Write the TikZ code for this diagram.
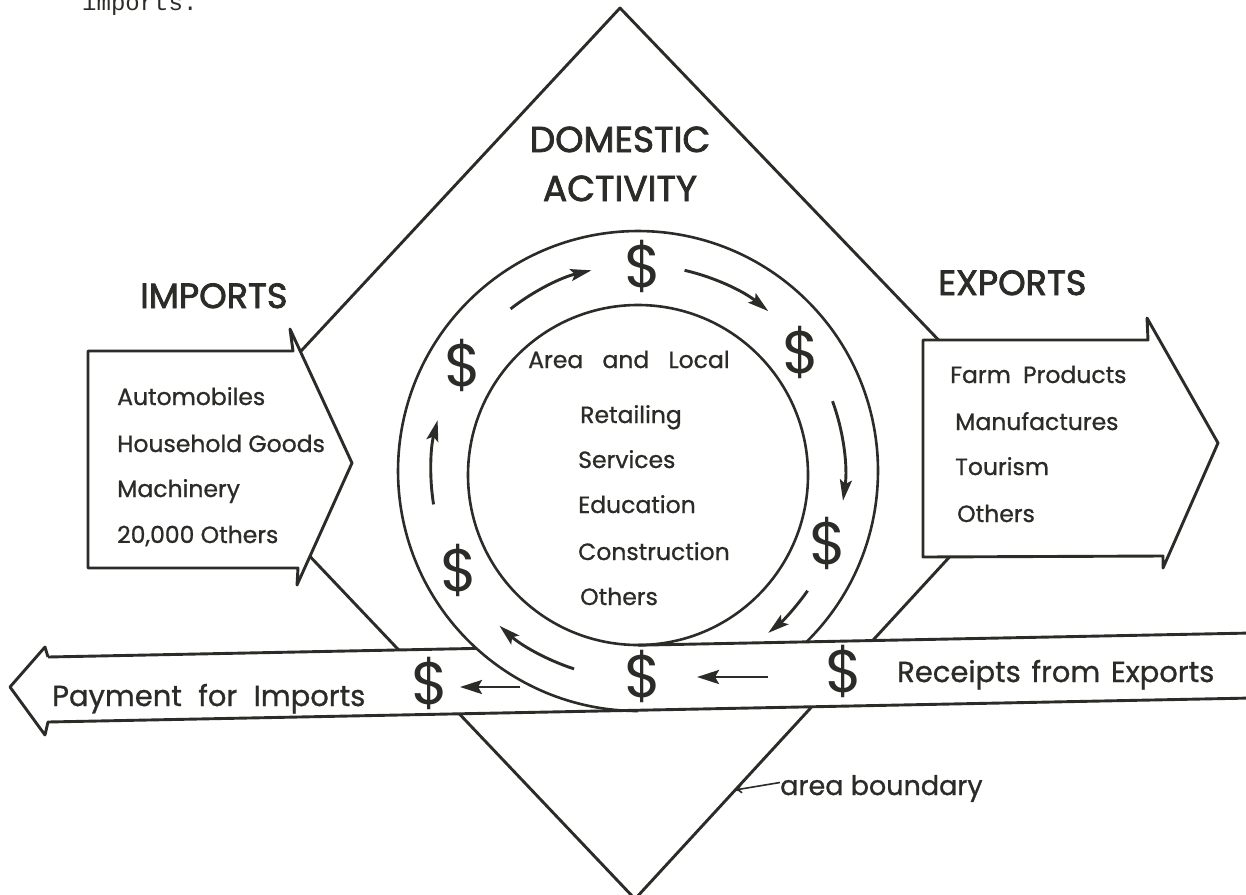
\documentclass[tikz,border=0pt]{standalone}
\usepackage{fontspec}
\setmainfont{Poppins}
\newfontfamily\lettering{Poppins}[FakeBold=0.9]
\newfontfamily\heading{Poppins}[FakeBold=2.2]
\newfontfamily\typewriter{Liberation Mono}
\usetikzlibrary{arrows.meta}
\definecolor{ink}{HTML}{2B2B27}

\newcommand{\fsz}[1]{\fontsize{#1}{#1}\selectfont}

\tikzset{
  edge/.style={draw=ink, line width=2.9pt, line join=round},
  ring/.style={draw=ink, line width=2.6pt},
  flow/.style={draw=ink, line width=2.9pt,
    -{Stealth[length=21pt, width=12pt, inset=4pt]}},
  bandflow/.style={draw=ink, line width=2.9pt,
    -{Stealth[length=22pt, width=14pt, inset=4pt]}},
  pointer/.style={draw=ink, line width=1.6pt, -{To[length=7pt, width=9pt]}},
  txt/.style={text=ink, inner sep=0pt, anchor=base west},
  title/.style={txt, font=\heading\fsz{35}},
  item/.style={txt, font=\lettering\fsz{23.5}},
  money/.style={text=ink, inner sep=0pt, font=\fsz{60}},
}

\begin{document}
\begin{tikzpicture}[x=1pt, y=-1pt]
  \useasboundingbox (0,0) rectangle (1246,894);
  \clip (0,0) rectangle (1246,894);

  % ---- area boundary (diamond) ----
  \coordinate (dT) at (620,8);
  \coordinate (dR) at (1046,452);
  \coordinate (dB) at (635,899);
  \coordinate (dL) at (209,450);
  \draw[edge] (dT) -- (dR) -- (dB) -- (dL) -- cycle;

  % ---- money band across the bottom ----
  \coordinate (pTip) at (10,687);
  \coordinate (pBarbT) at (45,647);
  \coordinate (pNotchT) at (48,657);
  \coordinate (pNotchB) at (48,722);
  \coordinate (pBarbB) at (45,735);
  \coordinate (bandTR) at (1252,633);
  \coordinate (bandBR) at (1252,698);
  \fill[white] (pBarbT) -- (pNotchT) -- (bandTR) -- (bandBR) -- (pNotchB)
               -- (pBarbB) -- (pTip) -- cycle;

  % ---- import and export arrows ----
  \path[edge, fill=white] (88,351) -- (293,351) -- (290,329) -- (352,463)
        -- (297,585) -- (298,568) -- (88,568) -- cycle;
  \path[edge, fill=white] (923,340) -- (1148,340) -- (1147,318) -- (1218,443)
        -- (1163,568) -- (1163,556) -- (923,557) -- cycle;

  % ---- circulation ring ----
  \coordinate (O) at (638,471);
  \coordinate (Oin) at (638,475);
  \draw[ring] (Oin) circle[radius=170];
  \draw[ring] (O) ++(45.3:240) coordinate (ringOpen)
        arc[start angle=45.3, end angle=-270, radius=240];
  \coordinate (ringCut) at (476,648.4);
  \coordinate (tangent) at (638,645.2);

  % band outlines
  \draw[edge] (pNotchT) -- (pBarbT) -- (pTip) -- (pBarbB) -- (pNotchB) -- (bandBR);
  \draw[edge] (pNotchT) -- (ringCut);
  \draw[edge] (tangent) -- (bandTR);

  % ---- flow arrows round the ring ----
  \coordinate (C) at (638,472);
  \draw[flow] (C) ++(-128:207) arc[start angle=-128, end angle=-103, radius=207];
  \draw[flow] (C) ++(-77:207) arc[start angle=-77, end angle=-51, radius=207];
  \draw[flow] (C) ++(-20:207) arc[start angle=-20, end angle=8, radius=207];
  \draw[flow] (C) ++(35:207) arc[start angle=35, end angle=51, radius=207];
  \draw[flow] (C) ++(108:207) arc[start angle=108, end angle=132, radius=207];
  \draw[flow] (C) ++(171:207) arc[start angle=171, end angle=194.5, radius=207];

  % ---- dollar signs ----
  \node[money] (mTop) at (643,266) {\$};
  \node[money] (mUL) at (463,365) {\$};
  \node[money] (mUR) at (801,352) {\$};
  \node[money] (mLR) at (828,543) {\$};
  \node[money] (mLL) at (459,570) {\$};
  \node[money] (mMid) at (643,676) {\$};
  \node[money] (mIn) at (844,671) {\$};
  \node[money] (mOut) at (430,683) {\$};

  % straight flow arrows in the band
  \coordinate (fa) at (768,677);
  \coordinate (fb) at (697,677);
  \coordinate (fc) at (520,687);
  \coordinate (fd) at (460,687);
  \draw[bandflow] (fa) -- (fb);
  \draw[bandflow] (fc) -- (fd);

  % ---- titles ----
  \node[txt, font=\heading\fsz{36}, anchor=base] (dom) at (620,152) {DOMESTIC};
  \node[txt, font=\heading\fsz{36}, anchor=base] (act) at (620,201) {ACTIVITY};
  \node[title] (imp) at (140,308) {IMPORTS};
  \node[title] (exp) at (938,295) {EXPORTS};

  % ---- import list ----
  \node[item] (i1) at (117,405) {Automobiles};
  \node[item] (i2) at (117,452) {Household Goods};
  \node[item] (i3) at (117,497) {Machinery};
  \node[item] (i4) at (117,543) {20,000 Others};

  % ---- export list ----
  \node[item] (e1) at (950,383) {Farm\hspace{0.25em} Products};
  \node[item] (e2) at (955,430) {Manufactures};
  \node[item] (e3) at (955,475) {Tourism};
  \node[item] (e4) at (957,522) {Others};

  % ---- local activity ----
  \node[item] (l0) at (528,368) {Area\hspace{0.55em} and\hspace{0.55em} Local};
  \node[item] (l1) at (580,423) {Retailing};
  \node[item] (l2) at (578,468) {Services};
  \node[item] (l3) at (578,513) {Education};
  \node[item] (l4) at (578,560) {Construction};
  \node[item] (l5) at (580,605) {Others};

  % ---- band labels ----
  \node[txt, font=\lettering\fsz{29}] (pay) at (52,706)
        {Payment\hspace{0.3em} for\hspace{0.3em} Imports};
  \node[txt, font=\lettering\fsz{29}] (rec) at (897,682)
        {Receipts\hspace{0.1em} from\hspace{0.1em} Exports};

  % ---- boundary label ----
  \node[txt, font=\lettering\fsz{27}] (bnd) at (780,795) {area boundary};
  \coordinate (onEdge) at (735,790);
  \draw[pointer] (bnd.west) ++(0,-6) -- (onEdge);

  % ---- running text above ----
  \node[txt, font=\typewriter\fsz{24}] (run) at (82,10) {imports.};
\end{tikzpicture}
\end{document}
